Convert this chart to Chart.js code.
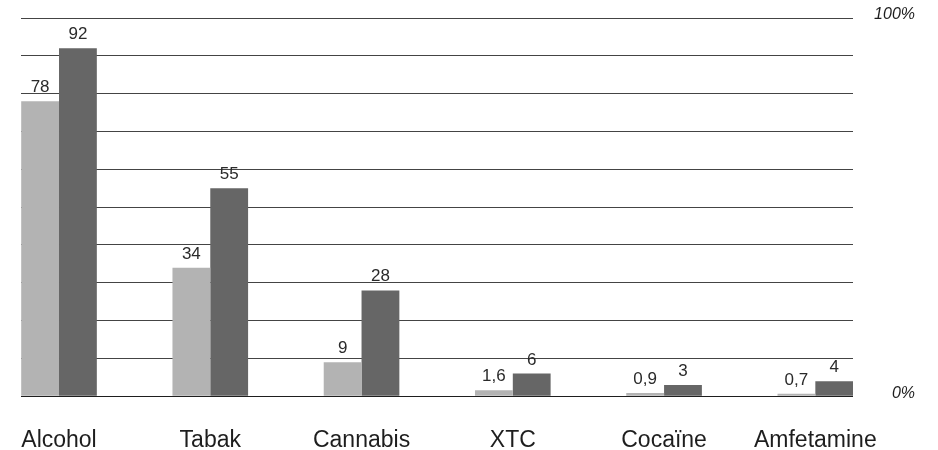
<!DOCTYPE html>
<html>
<head>
<meta charset="utf-8">
<title>Middelengebruik</title>
<script src="https://cdn.jsdelivr.net/npm/chart.js@4.4.1/dist/chart.umd.min.js"></script>
<style>
  html, body { margin: 0; padding: 0; background: #ffffff; }
  canvas { display: block; }
</style>
</head>
<body>
<canvas id="chart" width="938" height="450"></canvas>
<script>
// Categories along the bottom
const categories = ['Alcohol', 'Tabak', 'Cannabis', 'XTC', 'Cocaïne', 'Amfetamine'];
// Percentages, light grey series
const serieLicht = [78, 34, 9, 1.6, 0.9, 0.7];
// Percentages, dark grey series
const serieDonker = [92, 55, 28, 6, 3, 4];
// Right-hand axis labels (only ends are labelled)
const yTickLabels = { 0: '0%', 100: '100%' };

const toPoints = arr => arr.map((v, i) => ({ x: i, y: v }));
const fmt = v => String(v).replace('.', ',');

// Writes each bar's value just above it
const valueLabels = {
  id: 'valueLabels',
  afterDatasetsDraw(chart) {
    const ctx = chart.ctx;
    ctx.save();
    ctx.font = '17px "Liberation Sans Narrow", "Liberation Sans", Arial, sans-serif';
    ctx.fillStyle = '#2a2a2a';
    ctx.textAlign = 'center';
    ctx.textBaseline = 'alphabetic';
    chart.data.datasets.forEach((ds, di) => {
      const meta = chart.getDatasetMeta(di);
      meta.data.forEach((bar, i) => {
        ctx.fillText(fmt(ds.data[i].y), bar.x, bar.y - 9);
      });
    });
    ctx.restore();
  }
};

new Chart(document.getElementById('chart'), {
  type: 'bar',
  data: {
    datasets: [
      {
        label: 'licht',
        data: toPoints(serieLicht),
        backgroundColor: '#b3b3b3',
        categoryPercentage: 0.5,
        barPercentage: 1.0
      },
      {
        label: 'donker',
        data: toPoints(serieDonker),
        backgroundColor: '#666666',
        categoryPercentage: 0.5,
        barPercentage: 1.0
      }
    ]
  },
  options: {
    responsive: false,
    animation: false,
    devicePixelRatio: 1,
    layout: { padding: { left: 21, right: 23, top: 18, bottom: 0 } },
    plugins: {
      legend: { display: false },
      tooltip: { enabled: false }
    },
    scales: {
      x: {
        type: 'linear',
        offset: false,
        bounds: 'data',
        min: -0.2513,
        max: 5.249,
        grid: { display: false },
        border: { display: false },
        afterBuildTicks: scale => {
          scale.ticks = categories.map((_, i) => ({ value: i }));
        },
        afterFit: scale => {
          scale.height = 53.7;
          scale.paddingLeft = 0;
          scale.paddingRight = 0;
        },
        ticks: {
          padding: 23,
          color: '#1e1e1e',
          font: { family: '"Liberation Sans", Arial, sans-serif', size: 23 },
          maxRotation: 0,
          autoSkip: false,
          callback: v => categories[v] ?? ''
        }
      },
      y: {
        position: 'right',
        min: 0,
        max: 100,
        border: { display: false },
        grid: {
          drawTicks: false,
          lineWidth: 1,
          color: c => (c.tick && c.tick.value === 0 ? '#1e1e1e' : '#444444')
        },
        afterFit: scale => {
          scale.width = 62;
          scale.paddingTop = 0;
          scale.paddingBottom = 0;
        },
        ticks: {
          stepSize: 10,
          padding: 21,
          crossAlign: 'far',
          labelOffset: -3,
          color: '#1e1e1e',
          font: { family: '"Liberation Sans", Arial, sans-serif', size: 16, style: 'italic' },
          callback: v => yTickLabels[v] ?? ''
        }
      }
    }
  },
  plugins: [valueLabels]
});
</script>
</body>
</html>
